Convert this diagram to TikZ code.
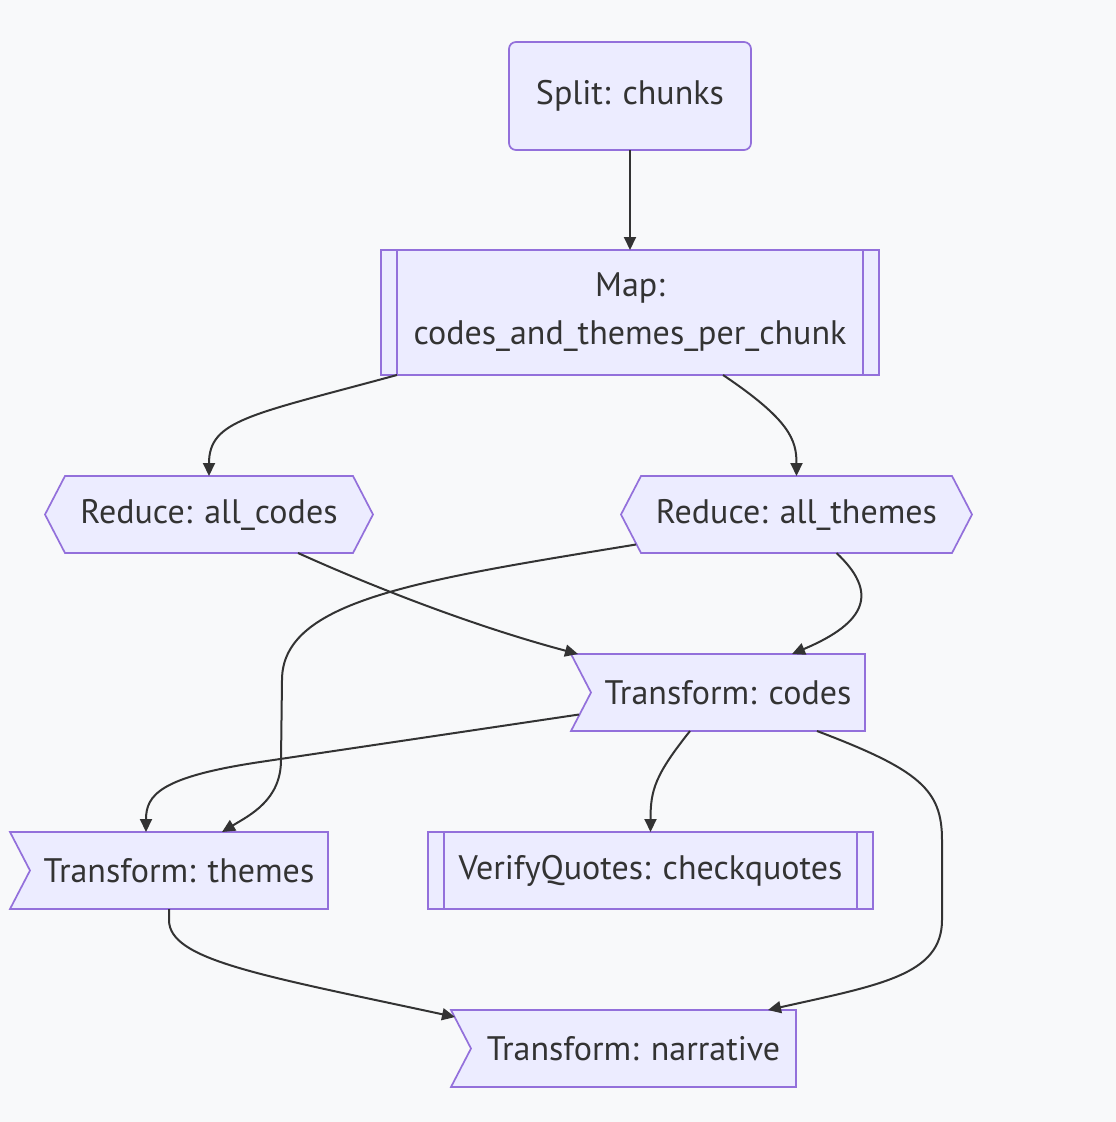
\documentclass[tikz,border=0pt]{standalone}
\usepackage{fontspec}
\setmainfont{PT Sans}
\usetikzlibrary{arrows.meta,backgrounds}
\definecolor{bg}{HTML}{F8F9FA}
\definecolor{nfill}{HTML}{ECECFF}
\definecolor{nstroke}{HTML}{9370DB}
\definecolor{ink}{HTML}{333333}
\tikzset{
  nd/.style 2 args={minimum width=#1, minimum height=#2, inner sep=0pt, outer sep=0pt,
    text=ink, font=\fontsize{34}{48}\selectfont, align=center},
  shp/.style={fill=nfill, draw=nstroke, line width=1.7pt, line join=miter},
  bar/.style={draw=nstroke, line width=1.7pt},
  edge/.style={draw=ink, line width=2pt, -{Triangle[length=13pt,width=12pt]}}
}
\begin{document}
\begin{tikzpicture}[x=1pt,y=-1pt]
\useasboundingbox (0,0) rectangle (1116,1122);
% nodes
\node[nd={242}{108}] (split) at (630,96) {Split: chunks};
\node[nd={498}{125}] (map) at (630,312.5) {Map:\\codes\_and\_themes\_per\_chunk};
\node[nd={328}{77}] (rc) at (209,514.5) {Reduce: all\_codes};
\node[nd={351}{77}] (rt) at (796.5,514.5) {Reduce: all\_themes};
\node[nd={294}{77}] (tc) at (718,692.5) {\hspace*{20pt}Transform: codes};
\node[nd={318}{77}] (tt) at (169,870.5) {\hspace*{20pt}Transform: themes};
\node[nd={445}{77}] (vq) at (650.5,870.5) {VerifyQuotes: checkquotes};
\node[nd={345}{77}] (tn) at (623.5,1048.5) {\hspace*{20pt}Transform: narrative};
% shapes
\begin{scope}[on background layer]
\fill[bg] (0,0) rectangle (1116,1122);
\draw[shp, rounded corners=7pt] (split.north west) rectangle (split.south east);
\draw[shp] (map.north west) rectangle (map.south east);
\draw[bar] ([xshift=16pt]map.north west) -- ([xshift=16pt]map.south west);
\draw[bar] ([xshift=-16pt]map.north east) -- ([xshift=-16pt]map.south east);
\foreach \n in {rc,rt}{
  \draw[shp] (\n.west) -- ([xshift=20pt]\n.north west) -- ([xshift=-20pt]\n.north east)
    -- (\n.east) -- ([xshift=-20pt]\n.south east) -- ([xshift=20pt]\n.south west) -- cycle;
}
\foreach \n in {tc,tt,tn}{
  \draw[shp] (\n.north west) -- (\n.north east) -- (\n.south east) -- (\n.south west)
    -- ([xshift=20pt]\n.west) -- cycle;
}
\draw[shp] (vq.north west) rectangle (vq.south east);
\draw[bar] ([xshift=16pt]vq.north west) -- ([xshift=16pt]vq.south west);
\draw[bar] ([xshift=-16pt]vq.north east) -- ([xshift=-16pt]vq.south east);
\end{scope}
% edges
\draw[edge] (split.south) -- (map.north);
\draw[edge] ([xshift=16pt]map.south west) .. controls (250,415) and (209,420) .. (rc.north);
\draw[edge] ([xshift=93pt]map.south) .. controls (790,420) and (796.5,440) .. (rt.north);
\draw[edge] ([xshift=89pt]rc.south) .. controls (380,590) and (480,628) .. ([xshift=7pt]tc.north west);
\draw[edge] ([xshift=15pt,yshift=-30pt]rt.west) .. controls (420,580) and (282,600) .. (282,680)
   -- (281,760) .. controls (281,800) and (250,815) .. ([xshift=53pt]tt.north);
\draw[edge] ([xshift=40pt]rt.south) .. controls (878,592) and (868,622) .. ([xshift=74pt]tc.north);
\draw[edge] ([xshift=8pt,yshift=-22pt]tc.west) -- (260,762) .. controls (160,777) and (146,795) .. ([xshift=-23pt]tt.north);
\draw[edge] ([xshift=-28pt]tc.south) .. controls (655,775) and (650.5,790) .. (vq.north);
\draw[edge] ([xshift=99pt]tc.south) .. controls (920,770) and (942,790) .. (942,840)
   -- (942,920) .. controls (942,975) and (880,985) .. ([xshift=-28pt]tn.north east);
\draw[edge] (tt.south) -- (169,920) .. controls (169,960) and (260,975) .. ([xshift=4pt,yshift=-7pt]tn.north west);
\end{tikzpicture}
\end{document}
